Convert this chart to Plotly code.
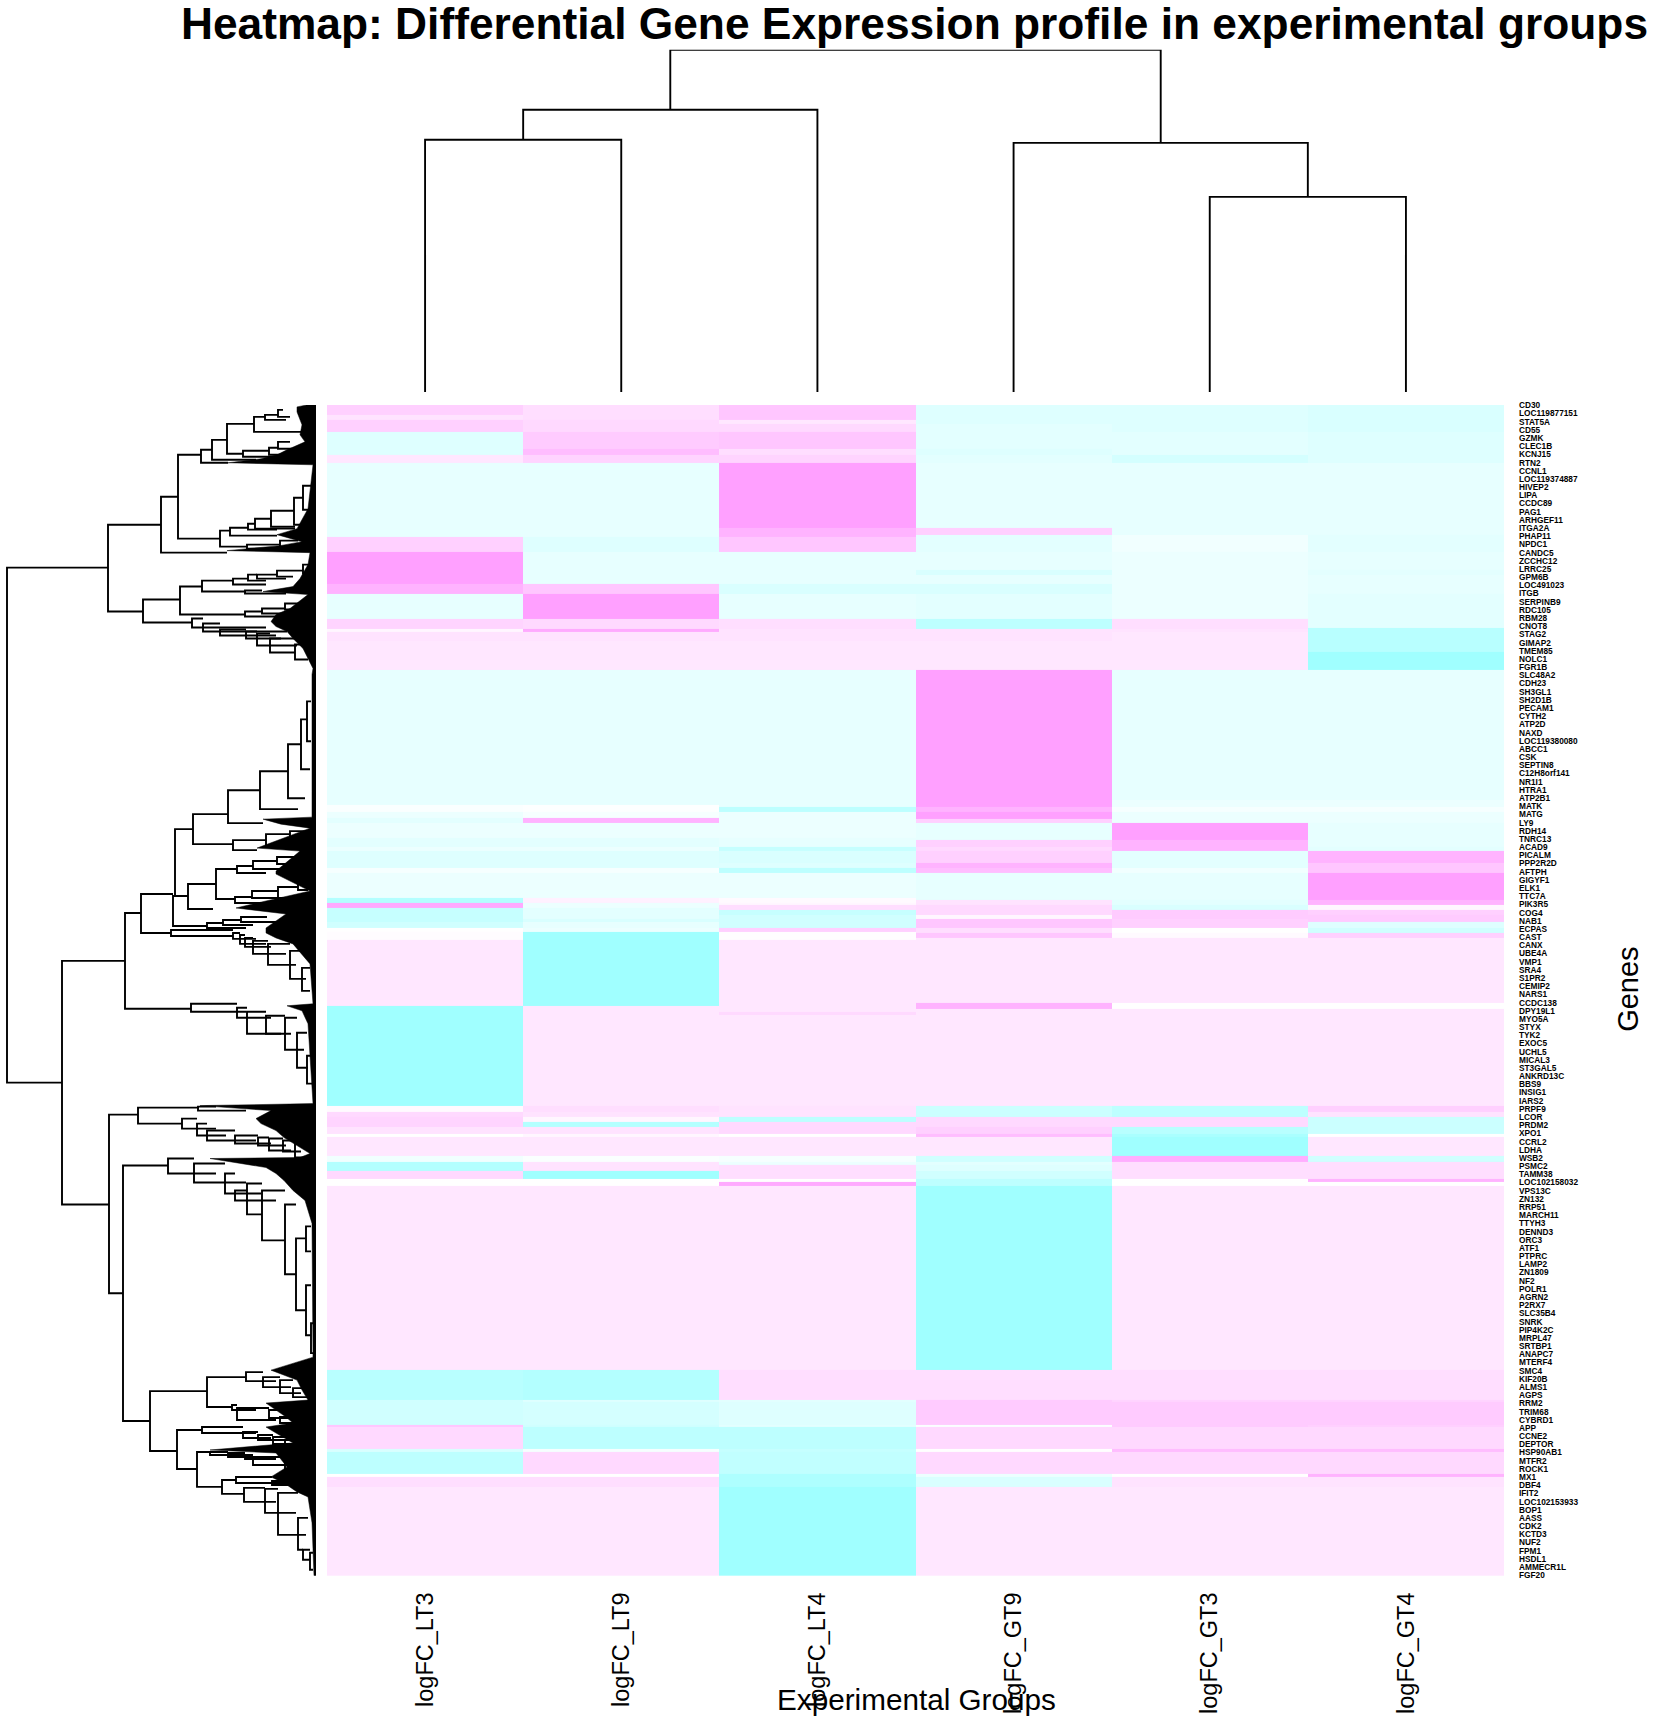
import plotly.graph_objects as go

FONT = "Liberation Sans"
W, H = 1653, 1725

groups = ["logFC_LT3", "logFC_LT9", "logFC_LT4", "logFC_GT9", "logFC_GT3", "logFC_GT4"]

genes = [
    "CD30", "LOC119877151", "STAT5A", "CD55", "GZMK", "CLEC1B", "KCNJ15", "RTN2", "CCNL1", "LOC119374887",
    "HIVEP2", "LIPA", "CCDC89", "PAG1", "ARHGEF11", "ITGA2A", "PHAP11", "NPDC1", "CANDC5", "ZCCHC12",
    "LRRC25", "GPM6B", "LOC491023", "ITGB", "SERPINB9", "RDC105", "RBM28", "CNOT8", "STAG2", "GIMAP2",
    "TMEM85", "NOLC1", "FGR1B", "SLC48A2", "CDH23", "SH3GL1", "SH2D1B", "PECAM1", "CYTH2", "ATP2D",
    "NAXD", "LOC119380080", "ABCC1", "CSK", "SEPTIN8", "C12H8orf141", "NR1I1", "HTRA1", "ATP2B1", "MATK",
    "MATG", "LY9", "RDH14", "TNRC13", "ACAD9", "PICALM", "PPP2R2D", "AFTPH", "GIGYF1", "ELK1",
    "TTC7A", "PIK3R5", "COG4", "NAB1", "ECPAS", "CAST", "CANX", "UBE4A", "VMP1", "SRA4",
    "S1PR2", "CEMIP2", "NARS1", "CCDC138", "DPY19L1", "MYO5A", "STYX", "TYK2", "EXOC5", "UCHL5",
    "MICAL3", "ST3GAL5", "ANKRD13C", "BBS9", "INSIG1", "IARS2", "PRPF9", "LCOR", "PRDM2", "XPO1",
    "CCRL2", "LDHA", "WSB2", "PSMC2", "TAMM38", "LOC102158032", "VPS13C", "ZN132", "RRP51", "MARCH11",
    "TTYH3", "DENND3", "ORC3", "ATF1", "PTPRC", "LAMP2", "ZN1809", "NF2", "POLR1", "AGRN2",
    "P2RX7", "SLC35B4", "SNRK", "PIP4K2C", "MRPL47", "SRTBP1", "ANAPC7", "MTERF4", "SMC4", "KIF20B",
    "ALMS1", "AGPS", "RRM2", "TRIM68", "CYBRD1", "APP", "CCNE2", "DEPTOR", "HSP90AB1", "MTFR2",
    "ROCK1", "MX1", "DBF4", "IFIT2", "LOC102153933", "BOP1", "AASS", "CDK2", "KCTD3", "NUF2",
    "FPM1", "HSDL1", "AMMECR1L", "FGF20",
]

# rows where each band of the clustered matrix starts, then one list per group
band_top = [0, 10, 15, 19, 27, 44, 50, 58, 123, 130, 132, 147, 165, 170, 179, 189, 214, 223, 224, 227,
            236, 247, 265, 396, 401, 403, 408, 414, 415, 419, 434, 436, 443, 447, 459, 464, 469, 494, 496, 499,
            501, 504, 506, 511, 515, 518, 524, 528, 529, 534, 536, 599, 602, 605, 608, 611, 702, 708, 713, 718, 723,
            730, 733, 752, 758, 761, 767, 775, 778, 782, 967, 997, 999, 1022, 1024, 1046, 1049, 1071, 1074, 1084]
n_rows = 1173
lt3 = [.5, .3, .5, .5, -.35, -.35, .25, -.25, -.25, -.25, .5, 1, 1, 1, .8, -.25, .45, .45, .1, .3,
       .25, .25, -.25, -.25, -.05, -.05, -.2, -.3, -.3, -.2, -.3, -.3, -.2, -.35, -.35, -.1, -.2, -.8, -.8, .9,
       .9, -.6, -.6, -.6, -.6, -.5, 0, .03, .03, .03, .25, .25, -1, -1, -1, -1, .05, .4, .45, .45, .3,
       0, .25, -.15, -.8, -.8, .4, 0, 0, .25, -.75, -.5, -.5, .6, .4, -.4, -.7, 0, .35, .25]
lt9 = [.35, .35, .4, .4, .55, .7, .45, -.25, -.25, -.25, -.35, -.25, -.25, -.25, .6, 1, .4, .4, .9, .3,
       .25, .25, -.25, -.25, -.02, -.02, -.1, .8, .8, -.2, -.3, -.3, -.2, -.35, -.35, -.1, -.2, .15, .15, -.2,
       -.2, -.3, -.3, -.3, -.4, -.25, -.2, -1, -1, -1, -1, -1, .25, .25, .25, .25, .35, .3, .1, -.8, .3,
       .1, .25, -.05, .3, .3, -1, 0, 0, .25, -.8, -.35, -.45, -.5, -.7, -.1, .4, 0, .35, .25]
lt4 = [.6, .6, .25, .4, .6, .35, .45, 1, .8, .8, .6, -.25, -.25, -.25, -.4, -.25, .35, .35, .3, .3,
       .25, .25, -.25, -.25, -.25, -.7, -.2, -.2, -.2, -.2, -.25, -.25, -.6, -.4, -.35, -.7, -.2, .05, .05, .1,
       .35, .35, -.6, -.5, -.5, -.5, .5, .02, .02, .02, .25, .25, .25, .25, .4, .25, .3, .3, -.7, .4, .4,
       0, .25, -.1, -.2, .35, .35, 0, .9, .25, .35, -.3, -.35, -.3, -.7, -.6, -.65, -.85, -.85, -1]
gt9 = [-.35, -.35, -.35, -.3, -.3, -.35, -.3, -.25, .5, -.3, -.3, -.25, -.4, -.25, -.4, -.3, -.7, -.7, .3, .3,
       .25, .25, 1, 1, 1, .8, 1, 1, .5, -.25, -.25, .5, .4, .5, .8, .7, -.25, -.25, .3, .3,
       .4, .4, .4, .1, .6, .6, .35, .35, .6, .25, .25, .8, .8, .25, .25, .25, -.55, -.55, .4, .4, .5,
       .7, .25, -.5, -.3, -.35, -.5, -.7, -.7, -1, .35, .55, .55, -.05, .4, 0, .4, -.2, -.4, .25]
gt3 = [-.35, -.35, -.35, -.35, -.3, -.3, -.45, -.25, -.25, -.15, -.15, -.2, -.2, -.2, -.2, -.2, .35, .35, .3, .25,
       .25, .25, -.25, -.2, -.2, -.1, -.2, -.2, -.2, 1, 1, .8, .8, -.3, -.3, -.15, -.25, -.25, -.3, -.3,
       -.4, -.4, .55, .55, .5, .5, 0, 0, .05, .25, .25, 0, 0, .25, .25, .25, -.7, -.7, .4, .4, -.75,
       -.9, -1, .85, .35, .35, .35, 0, 0, .25, .35, .45, .55, .55, .4, .7, .4, 0, .3, .25]
gt4 = [-.4, -.4, -.4, -.4, -.35, -.35, -.35, -.25, -.25, -.3, -.3, -.25, -.3, -.25, -.25, -.3, -.3, -.75, -.75, -.75,
       -.75, -1, -.25, -.2, -.2, -.1, -.2, -.2, -.2, -.25, -.25, -.25, -.3, .8, .6, .6, 1, 1, .8, .8,
       .1, .1, .5, .55, .55, -.35, -.5, -.5, .5, .25, .25, 0, 0, .25, .25, .25, .5, .3, -.55, -.55, -.55,
       0, .25, -.5, .35, .35, .35, .8, 0, .25, .35, .45, .55, .5, .4, .7, .4, .8, .3, .25]

# column dendrogram: left leaf, right leaf, merge height, left child height, right child height
col_merges = [
    (0.5, 1.5, 252, 0, 0), (1.0, 2.5, 282, 252, 0), (4.5, 5.5, 195, 0, 0),
    (3.5, 5.0, 249, 0, 195), (1.75, 4.25, 342, 282, 249),
]

# row dendrogram: merge height, top row, bottom row, top child height, bottom child height
row_merges = [
    (309, 163, 679, 208, 254), (208, 120, 207, 155, 173), (155, 92, 148, 138, 89), (138, 50, 134, 115, 96),
    (115, 45, 58, 104, 88), (104, 35, 55, 89, 60), (89, 19, 49, 62, 73), (62, 12, 27, 51, 15),
    (51, 10, 15, 38, 30), (38, 5, 12, 33, 26), (73, 46, 52, 47, 40), (47, 43, 50, 38, 26),
    (38, 37, 44, 26, 16), (96, 126, 142, 86, 69), (86, 123, 131, 68, 39), (68, 119, 125, 61, 39),
    (61, 114, 124, 45, 21), (45, 106, 122, 22, 21), (22, 93, 120, 13, 9), (13, 81, 105, 4, 4),
    (69, 140, 144, 36, 30), (36, 136, 142, 18, 16),
    (173, 195, 218, 136, 124), (136, 182, 210, 114, 71), (114, 176, 187, 83, 71), (83, 174, 180, 68, 50),
    (68, 170, 176, 59, 50), (59, 170, 174, 39, 30), (39, 166, 172, 13, 23), (13, 160, 169, 8, 4),
    (71, 186, 189, 54, 30), (71, 207, 212, 54, 30), (54, 204, 209, 31, 20), (31, 199, 205, 10, 5),
    (124, 214, 223, 113, 50), (113, 219, 227, 96, 29), (96, 225, 231, 70, 40), (70, 227, 234, 59, 35),
    (59, 229, 241, 46, 19), (46, 234, 248, 21, 21), (21, 240, 255, 11, 8),
    (88, 386, 419, 56, 53), (123, 410, 440, 88, 83), (56, 367, 405, 28, 18), (28, 340, 394, 15, 11),
    (15, 315, 365, 9, 6), (9, 297, 337, 5, 5), (141, 425, 492, 123, 128), (175, 490, 529, 143, 145),
    (191, 509, 605, 175, 125), (254, 557, 801, 191, 207), (143, 492, 522, 128, 109), (128, 480, 505, 100, 103),
    (100, 465, 495, 79, 81), (79, 462, 469, 63, 50), (63, 457, 465, 39, 30), (39, 453, 460, 19, 15),
    (81, 493, 499, 64, 50), (64, 487, 494, 38, 30), (38, 483, 494, 18, 25), (18, 475, 486, 9, 8),
    (109, 519, 524, 93, 70), (93, 516, 521, 75, 63), (75, 513, 518, 49, 40), (83, 436, 446, 50, 59),
    (50, 430, 442, 26, 39), (26, 427, 433, 8, 13), (39, 440, 444, 18, 20),
    (145, 526, 532, 83, 83), (83, 529, 535, 76, 60), (76, 531, 540, 71, 50), (71, 534, 543, 63, 45),
    (63, 537, 550, 48, 30), (48, 540, 561, 26, 20), (26, 547, 575, 14, 10), (14, 564, 587, 6, 6),
    (125, 600, 608, 79, 70), (79, 604, 614, 69, 45), (69, 608, 630, 50, 35), (50, 612, 630, 31, 25),
    (31, 614, 646, 19, 12), (19, 629, 664, 9, 8), (9, 652, 680, 4, 4),
    (207, 711, 890, 178, 193), (178, 704, 720, 118, 134), (118, 703, 707, 100, 70), (134, 715, 725, 119, 100),
    (119, 720, 732, 109, 90), (109, 727, 737, 81, 60), (81, 732, 740, 58, 45), (58, 734, 742, 47, 30),
    (47, 735, 747, 33, 25), (33, 737, 748, 21, 15), (21, 740, 754, 9, 8),
    (193, 762, 1018, 148, 166), (148, 755, 770, 122, 100), (122, 760, 779, 91, 70), (91, 770, 790, 81, 55),
    (81, 787, 797, 69, 40), (69, 780, 811, 54, 54), (54, 787, 837, 31, 31), (31, 801, 871, 20, 20),
    (20, 835, 907, 10, 10), (10, 823, 848, 5, 5), (10, 882, 932, 5, 5), (5, 920, 950, 3, 3),
    (166, 988, 1048, 109, 139), (109, 974, 1004, 70, 84), (70, 969, 978, 53, 40), (53, 974, 984, 36, 25),
    (36, 977, 990, 23, 15), (23, 985, 994, 11, 8), (84, 1002, 1007, 79, 60), (79, 1005, 1017, 47, 40),
    (47, 1007, 1015, 36, 25), (36, 1014, 1020, 26, 20),
    (139, 1027, 1066, 114, 119), (114, 1024, 1030, 73, 60), (73, 1029, 1035, 58, 45), (58, 1032, 1037, 43, 30),
    (43, 1034, 1041, 31, 20), (31, 1037, 1045, 20, 15),
    (119, 1049, 1084, 106, 94), (106, 1049, 1052, 88, 70), (88, 1050, 1054, 71, 55), (71, 1052, 1056, 63, 40),
    (63, 1054, 1062, 31, 25), (31, 1060, 1068, 16, 10),
    (94, 1077, 1091, 80, 72), (80, 1074, 1080, 44, 30), (44, 1078, 1082, 21, 15), (72, 1085, 1099, 51, 40),
    (51, 1086, 1110, 38, 20), (38, 1090, 1132, 18, 10), (18, 1115, 1147, 8, 13), (13, 1147, 1157, 6, 6),
    (6, 1150, 1167, 3, 3),
]

# outline of the dense black leaves along the row dendrogram
leaf_rows = [0, 2, 7, 14, 20, 30, 37, 45, 50, 54, 58, 60, 70, 104, 124, 130, 137, 141, 146, 148, 160, 174, 182,
             187, 190, 204, 210, 217, 222, 227, 234, 244, 264, 270, 387, 413, 415, 420, 424, 444, 447, 467, 470,
             487, 497, 504, 510, 520, 524, 529, 534, 540, 560, 600, 602, 607, 620, 700, 702, 707, 715, 720, 727,
             734, 750, 754, 755, 764, 770, 777, 787, 797, 820, 954, 967, 977, 987, 997, 1000, 1007, 1014, 1020,
             1024, 1030, 1040, 1047, 1050, 1064, 1074, 1080, 1089, 1094, 1120, 1173]
leaf_depth = [9, 19, 19, 16, 14, 16, 11, 29, 39, 55, 88, 3, 4, 8, 19, 39, 14, 36, 89, 6, 8, 16, 23,
              53, 8, 26, 40, 45, 40, 29, 23, 13, 3, 4, 4, 4, 53, 35, 6, 59, 16, 40, 40,
              6, 50, 80, 30, 45, 50, 50, 40, 23, 6, 3, 29, 14, 8, 3, 116, 45, 60, 55, 40,
              32, 6, 16, 106, 50, 40, 32, 23, 11, 4, 3, 45, 19, 14, 8, 50, 40, 30, 23,
              50, 40, 23, 106, 40, 29, 45, 32, 19, 8, 4, 2]

# heatmap bricks need the band edges, the last band closes at n_rows
row_edges = band_top + [n_rows]
z = [list(v) for v in zip(lt3, lt9, lt4, gt9, gt3, gt4)]

fig = go.Figure()

fig.add_trace(go.Heatmap(
    x=list(range(len(groups) + 1)), y=row_edges, z=z,
    zmin=-1, zmax=1, showscale=False, hoverinfo="skip",
    colorscale=[[0, "#A0FFFF"], [0.5, "#FFFFFF"], [1, "#FFA0FF"]],
))

# top dendrogram
top_x, top_y = [], []
for left, right, height, left_child, right_child in col_merges:
    top_x += [left, left, right, right, None]
    top_y += [left_child, height, height, right_child, None]
fig.add_trace(go.Scatter(x=top_x, y=top_y, mode="lines", xaxis="x2", yaxis="y2",
                         line=dict(color="black", width=1.9), hoverinfo="skip"))

# left dendrogram
side_x, side_y = [], []
for height, top_row, bottom_row, top_child, bottom_child in row_merges:
    side_x += [top_child, height, height, bottom_child, None]
    side_y += [top_row, top_row, bottom_row, bottom_row, None]
fig.add_trace(go.Scatter(x=side_x, y=side_y, mode="lines", xaxis="x3", yaxis="y3",
                         line=dict(color="black", width=1.9), hoverinfo="skip"))
fig.add_trace(go.Scatter(x=leaf_depth + [0, 0], y=leaf_rows + [n_rows, 0], mode="lines", xaxis="x3", yaxis="y3",
                         fill="toself", fillcolor="black", line=dict(color="black", width=0.5), hoverinfo="skip"))

# pixel positions of the panels in the page
heat_left, heat_right = 327 / W, 1504 / W
heat_top, heat_bottom = 1 - 402 / H, 1 - 1579 / H

label_step = (n_rows - 1) / (len(genes) - 1)

fig.update_layout(
    width=W, height=H,
    margin=dict(l=0, r=0, t=0, b=0),
    paper_bgcolor="white", plot_bgcolor="white",
    showlegend=False,
    font=dict(family=FONT, color="black"),
    title=dict(text="<b>Heatmap: Differential Gene Expression profile in experimental groups</b>",
               x=914.5 / W, xanchor="center", xref="paper", y=1 - 18.5 / H, yanchor="middle", yref="paper",
               font=dict(size=44.3, family=FONT)),
    xaxis=dict(domain=[heat_left, heat_right], range=[0, 6], showgrid=False, zeroline=False,
               tickmode="array", tickvals=[i + 0.5 for i in range(6)], ticktext=groups,
               tickangle=-90, ticks="", ticklabelstandoff=11, tickfont=dict(size=23.5, family=FONT)),
    yaxis=dict(domain=[heat_bottom, heat_top], range=[n_rows, 0], side="right", showgrid=False, zeroline=False,
               tickmode="array", tickvals=[0.5 + i * label_step for i in range(len(genes))], ticktext=genes,
               ticks="", ticklabelstandoff=14, tickfont=dict(size=8.3, family=FONT, weight="bold")),
    xaxis2=dict(domain=[heat_left, heat_right], range=[0, 6], anchor="y2", visible=False),
    yaxis2=dict(domain=[1 - 389 / H, 1 - 45 / H], range=[0, 342], anchor="x2", visible=False),
    xaxis3=dict(domain=[0, 316 / W], range=[316, 0], anchor="y3", visible=False),
    yaxis3=dict(domain=[heat_bottom, heat_top], range=[n_rows, 0], anchor="x3", visible=False),
    annotations=[
        dict(text="Experimental Groups", x=916 / W, y=1 - 1703 / H, xref="paper", yref="paper",
             showarrow=False, xanchor="center", yanchor="middle", font=dict(size=29.7, family=FONT)),
        dict(text="Genes", x=1628 / W, y=1 - 990 / H, xref="paper", yref="paper", textangle=-90,
             showarrow=False, xanchor="center", yanchor="middle", font=dict(size=29, family=FONT)),
    ],
)

fig.write_html("out.html", post_script="document.body.style.margin='0';", config=dict(displayModeBar=False))
